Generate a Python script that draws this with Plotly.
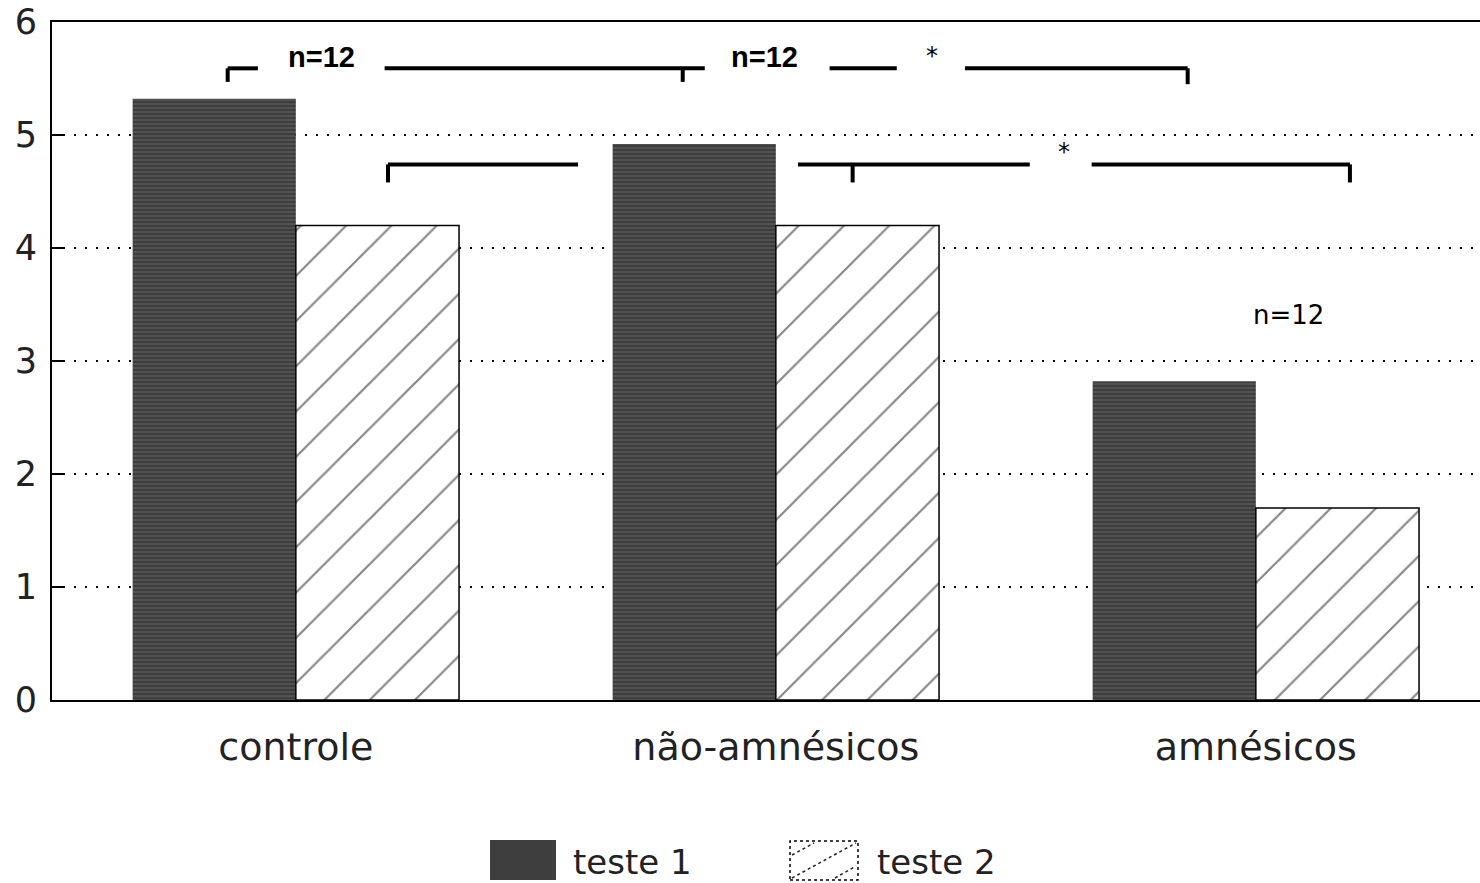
import plotly.graph_objects as go

categories = ["controle", "não-amnésicos", "amnésicos"]
teste1 = [5.32, 4.92, 2.82]
teste2 = [4.20, 4.20, 1.70]
series_names = ["teste 1", "teste 2"]
y_ticks = [0, 1, 2, 3, 4, 5, 6]

FONT = "DejaVu Sans"
BOLD = "Liberation Sans"
DARK = "#3e3e3e"

fig = go.Figure()
fig.add_trace(go.Bar(
    x=categories, y=teste1, name=series_names[0],
    marker=dict(color=DARK,
                pattern=dict(shape="-", fgcolor="#8a8a8a", bgcolor=DARK,
                             size=4, solidity=0.25),
                line=dict(width=0)),
))
fig.add_trace(go.Bar(
    x=categories, y=teste2, name=series_names[1],
    marker=dict(color="white",
                pattern=dict(shape="/", fgcolor="#111", bgcolor="white",
                             size=32, solidity=0.07),
                line=dict(width=1.5, color="black")),
))

# significance brackets (data coordinates)
LW = 4
shapes = []
def seg(x0, x1, y):
    shapes.append(dict(type="line", xref="x", yref="y", x0=x0, x1=x1, y0=y, y1=y,
                       line=dict(color="black", width=LW)))
def tick(x, y0, y1):
    shapes.append(dict(type="line", xref="x", yref="y", x0=x, x1=x, y0=y0, y1=y1,
                       line=dict(color="black", width=LW)))

# upper bracket
yu = 5.59
seg(-0.142, -0.079, yu); tick(-0.142, yu, 5.47)
seg(0.185, 0.852, yu); tick(0.806, yu, 5.47)
seg(1.112, 1.252, yu)
seg(1.394, 1.858, yu); tick(1.858, yu, 5.45)
# lower bracket
yl = 4.74
seg(0.192, 0.588, yl); tick(0.192, yl, 4.58)
seg(1.046, 1.529, yl); tick(1.160, yl, 4.58)
seg(1.658, 2.196, yl); tick(2.196, yl, 4.58)

annotations = [
    dict(x=0.054, y=5.69, text="<b>n=12</b>", family=BOLD, size=29),
    dict(x=0.977, y=5.69, text="<b>n=12</b>", family=BOLD, size=29),
    dict(x=1.325, y=5.70, text="*", size=24),
    dict(x=1.600, y=4.85, text="*", size=24),
    dict(x=2.067, y=3.41, text="n=12", size=26),
]
ann = []
for a in annotations:
    ann.append(dict(x=a["x"], y=a["y"], xref="x", yref="y", text=a["text"],
                    showarrow=False,
                    font=dict(family=a.get("family", FONT), size=a.get("size", 26),
                              color="black")))

# custom legend (pixel -> paper conversion helpers)
PL, PW, PT, PH = 52, 1428, 22, 678
def px(x):
    return (x - PL) / PW
def py(y):
    return (PT + PH - y) / PH

# swatch 1: dark box
shapes.append(dict(type="rect", xref="paper", yref="paper",
                   x0=px(490), x1=px(556), y0=py(880), y1=py(840),
                   fillcolor=DARK, line=dict(width=0)))
# swatch 2: white box with hatch lines
shapes.append(dict(type="rect", xref="paper", yref="paper",
                   x0=px(790), x1=px(858), y0=py(880), y1=py(841),
                   fillcolor="white", line=dict(width=1.5, color="black", dash="dot")))
for (xa, ya, xb, yb) in [(792, 878, 856, 843), (792, 855, 814, 843), (835, 878, 856, 866)]:
    shapes.append(dict(type="line", xref="paper", yref="paper",
                       x0=px(xa), y0=py(ya), x1=px(xb), y1=py(yb),
                       line=dict(width=1.5, color="#222", dash="dot")))
for name, x0 in zip(series_names, [571, 875]):
    ann.append(dict(x=px(x0), y=py(862), xref="paper", yref="paper", text=name,
                    xanchor="left", yanchor="middle", showarrow=False,
                    font=dict(family=FONT, size=34, color="#222")))

fig.update_layout(
    width=1480, height=883,
    margin=dict(l=52, r=0, t=22, b=183),
    paper_bgcolor="white", plot_bgcolor="white",
    barmode="group", bargap=0.32, bargroupgap=0,
    font=dict(family=FONT, color="black"),
    shapes=shapes, annotations=ann,
    showlegend=False,
)
fig.update_xaxes(
    range=[-0.508, 2.467], showline=True, linecolor="black", linewidth=2,
    mirror=True, ticks="", showgrid=False,
    tickfont=dict(family=FONT, size=38, color="#222"),
    ticklabelstandoff=12, automargin=False,
)
fig.update_yaxes(
    range=[0, 6], tickvals=y_ticks, showline=True, linecolor="black", linewidth=2,
    ticks="inside", ticklen=12, tickwidth=2, tickcolor="black",
    showgrid=True, gridcolor="black", griddash="2px,9px", gridwidth=2,
    zeroline=False,
    tickfont=dict(family=FONT, size=35, color="#222"),
    ticklabelstandoff=6, automargin=False,
)

fig.write_html("out.html")
